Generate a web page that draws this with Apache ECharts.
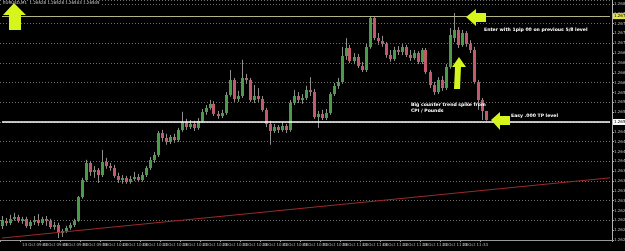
<!DOCTYPE html>
<html>
<head>
<meta charset="utf-8">
<script src="https://cdn.jsdelivr.net/npm/echarts@6/dist/echarts.min.js"></script>
<style>
  html, body { margin: 0; padding: 0; background: #000; }
  #chart { width: 625px; height: 251px; }
</style>
</head>
<body>
<div id="chart"></div>
<script>
// EURUSD M1, 14 Oct - candles as [open, close, low, high]
const ohlc = [
  [1.26236, 1.26251, 1.26228, 1.26261], [1.26249, 1.26244, 1.26236, 1.26256],
  [1.26244, 1.26254, 1.26238, 1.26264], [1.26254, 1.26259, 1.26249, 1.26269],
  [1.26259, 1.26249, 1.26244, 1.26264], [1.26249, 1.26254, 1.26241, 1.26259],
  [1.26254, 1.26236, 1.26231, 1.26259], [1.26236, 1.26246, 1.26228, 1.26251],
  [1.26246, 1.26251, 1.26238, 1.26261], [1.26251, 1.26244, 1.26236, 1.26266],
  [1.26244, 1.26254, 1.26238, 1.26259], [1.26254, 1.26249, 1.26236, 1.26261],
  [1.26249, 1.26233, 1.26228, 1.26254], [1.26233, 1.26238, 1.26226, 1.26246],
  [1.26238, 1.26218, 1.26205, 1.26244], [1.26218, 1.26223, 1.26208, 1.26228],
  [1.26223, 1.26231, 1.26218, 1.26236], [1.26231, 1.26238, 1.26226, 1.26244],
  [1.26238, 1.26249, 1.26233, 1.26254], [1.26249, 1.26310, 1.26246, 1.26312],
  [1.26310, 1.26353, 1.26305, 1.26358], [1.26353, 1.26396, 1.26348, 1.26404],
  [1.26396, 1.26373, 1.26363, 1.26401], [1.26373, 1.26378, 1.26358, 1.26388],
  [1.26378, 1.26365, 1.26345, 1.26383], [1.26365, 1.26399, 1.26360, 1.26429],
  [1.26399, 1.26388, 1.26381, 1.26409], [1.26388, 1.26383, 1.26376, 1.26396],
  [1.26383, 1.26363, 1.26358, 1.26391], [1.26363, 1.26353, 1.26345, 1.26371],
  [1.26353, 1.26358, 1.26343, 1.26365], [1.26358, 1.26348, 1.26343, 1.26363],
  [1.26348, 1.26355, 1.26343, 1.26363], [1.26355, 1.26360, 1.26350, 1.26373],
  [1.26360, 1.26353, 1.26348, 1.26368], [1.26353, 1.26365, 1.26348, 1.26373],
  [1.26365, 1.26383, 1.26360, 1.26388], [1.26383, 1.26404, 1.26378, 1.26411],
  [1.26404, 1.26416, 1.26396, 1.26424], [1.26416, 1.26472, 1.26411, 1.26477],
  [1.26472, 1.26459, 1.26452, 1.26480], [1.26459, 1.26449, 1.26442, 1.26470],
  [1.26449, 1.26462, 1.26444, 1.26467], [1.26462, 1.26454, 1.26447, 1.26470],
  [1.26454, 1.26480, 1.26449, 1.26485], [1.26480, 1.26500, 1.26475, 1.26526],
  [1.26500, 1.26487, 1.26480, 1.26508], [1.26487, 1.26495, 1.26482, 1.26505],
  [1.26495, 1.26485, 1.26477, 1.26503], [1.26485, 1.26503, 1.26480, 1.26510],
  [1.26503, 1.26526, 1.26498, 1.26533], [1.26526, 1.26536, 1.26518, 1.26543],
  [1.26536, 1.26546, 1.26531, 1.26556], [1.26546, 1.26520, 1.26515, 1.26553],
  [1.26520, 1.26515, 1.26508, 1.26528], [1.26515, 1.26523, 1.26510, 1.26531],
  [1.26523, 1.26569, 1.26518, 1.26576], [1.26569, 1.26607, 1.26564, 1.26632],
  [1.26607, 1.26559, 1.26551, 1.26612], [1.26559, 1.26566, 1.26551, 1.26579],
  [1.26566, 1.26612, 1.26561, 1.26658], [1.26612, 1.26607, 1.26597, 1.26622],
  [1.26607, 1.26556, 1.26551, 1.26612], [1.26556, 1.26566, 1.26548, 1.26594],
  [1.26566, 1.26559, 1.26551, 1.26586], [1.26559, 1.26531, 1.26526, 1.26566],
  [1.26531, 1.26495, 1.26487, 1.26536], [1.26495, 1.26477, 1.26442, 1.26503],
  [1.26477, 1.26487, 1.26472, 1.26495], [1.26487, 1.26480, 1.26472, 1.26492],
  [1.26480, 1.26490, 1.26475, 1.26500], [1.26490, 1.26480, 1.26472, 1.26495],
  [1.26480, 1.26548, 1.26475, 1.26556], [1.26548, 1.26566, 1.26543, 1.26581],
  [1.26566, 1.26556, 1.26548, 1.26576], [1.26556, 1.26561, 1.26546, 1.26571],
  [1.26561, 1.26581, 1.26556, 1.26592], [1.26581, 1.26576, 1.26566, 1.26614],
  [1.26576, 1.26513, 1.26508, 1.26584], [1.26513, 1.26520, 1.26485, 1.26528],
  [1.26520, 1.26510, 1.26505, 1.26531], [1.26510, 1.26523, 1.26505, 1.26533],
  [1.26523, 1.26571, 1.26518, 1.26576], [1.26571, 1.26592, 1.26566, 1.26599],
  [1.26592, 1.26602, 1.26584, 1.26612], [1.26602, 1.26668, 1.26597, 1.26691],
  [1.26668, 1.26688, 1.26658, 1.26713], [1.26688, 1.26655, 1.26650, 1.26696],
  [1.26655, 1.26665, 1.26647, 1.26675], [1.26665, 1.26642, 1.26637, 1.26673],
  [1.26642, 1.26632, 1.26627, 1.26653], [1.26632, 1.26691, 1.26627, 1.26698],
  [1.26691, 1.26764, 1.26686, 1.26769], [1.26764, 1.26713, 1.26708, 1.26769],
  [1.26713, 1.26706, 1.26696, 1.26726], [1.26706, 1.26698, 1.26691, 1.26719],
  [1.26698, 1.26670, 1.26663, 1.26703], [1.26670, 1.26660, 1.26653, 1.26683],
  [1.26660, 1.26683, 1.26655, 1.26691], [1.26683, 1.26678, 1.26670, 1.26693],
  [1.26678, 1.26691, 1.26670, 1.26698], [1.26691, 1.26670, 1.26665, 1.26696],
  [1.26670, 1.26663, 1.26655, 1.26683], [1.26663, 1.26675, 1.26658, 1.26683],
  [1.26675, 1.26653, 1.26647, 1.26680], [1.26653, 1.26683, 1.26647, 1.26688],
  [1.26683, 1.26627, 1.26622, 1.26688], [1.26627, 1.26594, 1.26586, 1.26632],
  [1.26594, 1.26576, 1.26569, 1.26602], [1.26576, 1.26607, 1.26571, 1.26614],
  [1.26607, 1.26586, 1.26579, 1.26617], [1.26586, 1.26640, 1.26581, 1.26647],
  [1.26640, 1.26721, 1.26635, 1.26739], [1.26713, 1.26734, 1.26703, 1.26777],
  [1.26734, 1.26696, 1.26688, 1.26741], [1.26696, 1.26726, 1.26691, 1.26734],
  [1.26726, 1.26698, 1.26691, 1.26731], [1.26698, 1.26683, 1.26675, 1.26708],
  [1.26683, 1.26602, 1.26597, 1.26691], [1.26602, 1.26556, 1.26531, 1.26607],
  [1.26556, 1.26528, 1.26505, 1.26561], [1.26528, 1.26505, 1.26503, 1.26528]
]

// time labels, one every 5 bars
const timeLabels = [
  '14 Oct 09:38', '14 Oct 09:43', '14 Oct 09:48', '14 Oct 09:53', '14 Oct 09:58',
  '14 Oct 10:03', '14 Oct 10:08', '14 Oct 10:13', '14 Oct 10:18', '14 Oct 10:23',
  '14 Oct 10:28', '14 Oct 10:33', '14 Oct 10:38', '14 Oct 10:43', '14 Oct 10:48',
  '14 Oct 10:53', '14 Oct 10:58', '14 Oct 11:03', '14 Oct 11:08', '14 Oct 11:13',
  '14 Oct 11:18', '14 Oct 11:23', '14 Oct 11:28', '14 Oct 11:33', '14 Oct 11:38'
]
const labelStep = 5
const totalSlots = 153 // bars + empty shift space on the right

// levels drawn on the chart
const entryLevel = 1.26769   // 5/8 level (olive)
const tpLevel = 1.26500      // TP level (white)
const trendStart = 1.26205
const trendEnd = 1.26358

const priceMin = 1.2620
const priceMax = 1.2681

const categories = []
for (let i = 0; i < totalSlots; i++) {
  categories.push(i % labelStep === 0 && timeLabels[i / labelStep] ? timeLabels[i / labelStep] : '')
}
const candleData = ohlc.map((d, i) => [i, d[0], d[1], d[2], d[3]])

const bullColor = '#4a9c4a'
const bearColor = '#c05a6c'
const wickColor = '#8e8e8e'
const arrowColor = '#d6f51c'
const font = 'DejaVu Sans'

const chart = echarts.init(document.getElementById('chart'))

// yellow arrows used as notes on the screenshot
const arrow = pts => ({
  type: 'polygon', silent: true, z: 100,
  shape: { points: pts },
  style: { fill: arrowColor }
})
const note = (x, y, text) => ({
  type: 'text', silent: true, z: 100, x, y,
  style: { text, fill: '#ffffff', font: 'bold 4.6px ' + font }
})
// horizontal level spanning every slot, price tag on the axis
const levelLine = (val, color, width, tagBg) => [
  {
    coord: [0, val],
    lineStyle: { color, width, type: 'solid' },
    label: {
      show: true, position: 'end', distance: 3,
      formatter: val.toFixed(5),
      color: '#000', backgroundColor: tagBg,
      fontSize: 4, fontFamily: font, padding: [1, 1]
    }
  },
  { coord: [totalSlots - 1, val] }
]

const option = {
  backgroundColor: '#000',
  animation: false,
  grid: { left: 0, right: 13, top: 0, bottom: 11, outerBoundsMode: 'none', containLabel: false },
  xAxis: {
    type: 'category',
    data: categories,
    boundaryGap: true,
    axisLine: { lineStyle: { color: '#9a9a9a', width: 1 } },
    axisTick: {
      show: true, length: 2,
      interval: (i, v) => v !== '',
      lineStyle: { color: '#9a9a9a' }
    },
    axisLabel: {
      interval: (i, v) => v !== '',
      align: 'left',
      margin: 3,
      color: '#bdbdbd',
      fontSize: 4,
      fontFamily: font,
      hideOverlap: false
    },
    splitLine: { show: false }
  },
  yAxis: [
    {
      type: 'value',
      position: 'right',
      min: priceMin,
      max: priceMax,
      interval: 0.00025,
      axisLine: { show: true, lineStyle: { color: '#b0b0b0' } },
      axisTick: { show: true, length: 2, lineStyle: { color: '#b0b0b0' } },
      axisLabel: {
        margin: 2, color: '#bdbdbd', fontSize: 4, fontFamily: font,
        formatter: v => v.toFixed(5), showMaxLabel: false, hideOverlap: false
      },
      splitLine: { show: false }
    },
    {
      type: 'value',
      position: 'right',
      min: priceMin,
      max: priceMax,
      interval: 0.0005,
      axisLine: { show: false },
      axisTick: { show: false },
      axisLabel: { show: false },
      splitLine: { show: true, lineStyle: { color: '#707070', type: [1, 2], width: 1 } }
    }
  ],
  series: [
    {
      type: 'custom',
      name: 'EURUSD',
      data: candleData,
      encode: { x: 0, y: [1, 2, 3, 4] },
      clip: true,
      renderItem: (params, api) => {
        const i = api.value(0)
        const o = api.value(1), c = api.value(2)
        const pO = api.coord([i, o])
        const pC = api.coord([i, c])
        const pL = api.coord([i, api.value(3)])
        const pH = api.coord([i, api.value(4)])
        const cx = Math.floor(pO[0])
        const top = Math.round(Math.min(pO[1], pC[1]))
        const h = Math.max(Math.round(Math.abs(pO[1] - pC[1])), 1)
        return {
          type: 'group',
          children: [
            { type: 'line', shape: { x1: cx + 0.5, y1: pH[1], x2: cx + 0.5, y2: pL[1] },
              style: { stroke: wickColor, lineWidth: 1 } },
            { type: 'rect', shape: { x: cx - 1, y: top, width: 3, height: h },
              style: { fill: c >= o ? bullColor : bearColor } }
          ]
        }
      },
      markLine: {
        silent: true,
        symbol: ['none', 'none'],
        animation: false,
        data: [
          [
            { coord: [0, trendStart], lineStyle: { color: '#9c2a2a', width: 1, type: 'solid' }, label: { show: false } },
            { coord: [totalSlots - 1, trendEnd] }
          ],
          levelLine(entryLevel, '#b4b488', 1.2, '#e3e34a'),
          levelLine(tpLevel, '#ffffff', 1.5, '#ffffff')
        ]
      }
    }
  ],
  graphic: [
    {
      type: 'text', silent: true, z: 100, x: 2, y: 1,
      style: {
        text: 'EURUSD,M1  1.26528 1.26528 1.26503 1.26505',
        fill: '#d0d0d0', font: '4px ' + font,
        backgroundColor: '#000', padding: [0, 1]
      }
    },
    arrow([[14, 3], [26, 15], [21, 15], [21, 30], [9, 30], [9, 15], [3, 15]]),
    arrow([[466, 17], [476, 9], [476, 13], [486, 13], [486, 22], [476, 22], [476, 26]]),
    arrow([[459, 57], [466, 67], [461, 67], [460, 89], [454, 89], [455, 67], [452, 67]]),
    arrow([[491, 120], [500, 112], [500, 116], [510, 116], [510, 125], [500, 125], [500, 130]]),
    note(484, 27, 'Enter with 1pip 00 on previous 5/8 level'),
    note(411, 102, 'Big counter trend spike from'),
    note(411, 108, 'CPI / Pounds'),
    note(511, 113, 'Easy .000 TP level')
  ]
}

chart.setOption(option)
</script>
</body>
</html>
